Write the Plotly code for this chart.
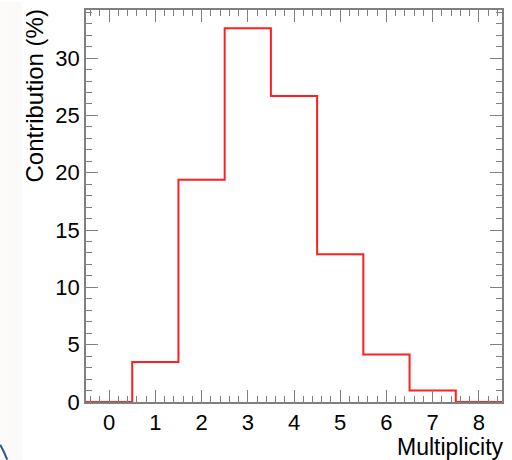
import plotly.graph_objects as go

multiplicity = [0, 1, 2, 3, 4, 5, 6, 7, 8]
contribution = [0.0, 3.5, 19.4, 32.6, 26.7, 12.9, 4.15, 1.0, 0.0]

# bin edges for the step outline
edges = [m - 0.5 for m in multiplicity] + [multiplicity[-1] + 0.5]
step_y = contribution + [contribution[-1]]

FONT = "Liberation Sans, Arial, Helvetica, sans-serif"
AX = "#808080"

fig = go.Figure()
fig.add_trace(go.Scatter(
    x=edges, y=step_y, mode="lines", line_shape="hv",
    line=dict(color="#ff1f1f", width=2), cliponaxis=False,
    hoverinfo="skip", showlegend=False,
))

fig.update_xaxes(
    range=[-0.5, 8.5], tickmode="array", tickvals=multiplicity,
    ticktext=[str(m) for m in multiplicity],
    ticks="inside", ticklen=12, tickwidth=1, tickcolor=AX,
    minor=dict(dtick=0.2, ticks="inside", ticklen=6, tickcolor=AX, tickwidth=1),
    showline=True, linecolor=AX, linewidth=1.5, mirror="allticks",
    showgrid=False, zeroline=False,
    tickfont=dict(family=FONT, size=22, color="black"),
)
fig.update_yaxes(
    range=[0, 34.2], tickmode="linear", tick0=0, dtick=5,
    ticks="inside", ticklen=12, tickwidth=1, tickcolor=AX,
    minor=dict(dtick=1, ticks="inside", ticklen=6, tickcolor=AX, tickwidth=1),
    showline=True, linecolor=AX, linewidth=1.5, mirror="allticks",
    showgrid=False, zeroline=False,
    tickfont=dict(family=FONT, size=22, color="black"),
)

fig.add_annotation(
    text="Contribution (%)", textangle=-90, xref="paper", yref="paper",
    x=0, y=1, xanchor="center", yanchor="top", xshift=-52, yshift=2,
    showarrow=False, font=dict(family=FONT, size=24, color="black"),
)
fig.add_annotation(
    text="Multiplicity", xref="paper", yref="paper",
    x=1, y=0, xanchor="right", yanchor="middle", xshift=4, yshift=-45,
    showarrow=False, font=dict(family=FONT, size=23, color="black"),
)

# left light strip and corner arc seen in the reference screenshot
fig.add_shape(type="rect", xref="paper", yref="paper", x0=-86/417, x1=-64/417,
              y0=-58/394, y1=1 + 8/394, fillcolor="#fbfaf8", line_width=0, layer="below")
fig.add_shape(type="path", xref="paper", yref="paper",
              path=f"M {-86/417} {-43/394} Q {-82/417} {-50/394} {-79/417} {-58/394}",
              line=dict(color="#2b5a8f", width=2))

fig.update_layout(
    width=512, height=460, margin=dict(l=86, r=9, t=8, b=58),
    paper_bgcolor="white", plot_bgcolor="white",
)
fig.write_html("out.html")
